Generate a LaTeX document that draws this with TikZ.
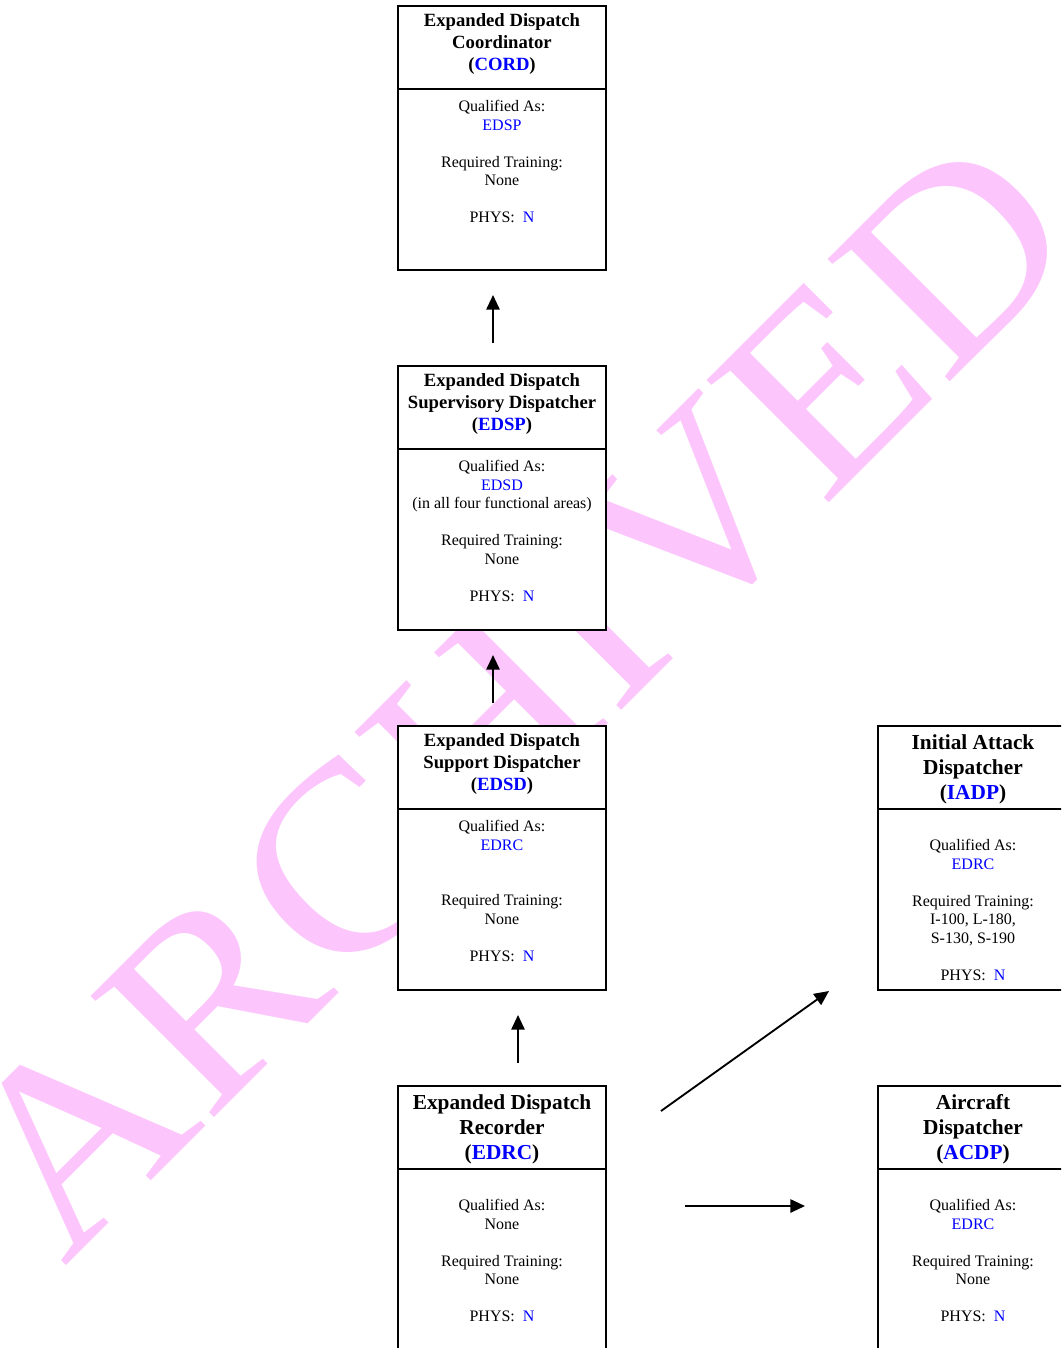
\documentclass[tikz,border=0pt]{standalone}
\usepackage{fontspec}
\setmainfont{Liberation Serif}
\usetikzlibrary{arrows.meta,calc}
\definecolor{stampink}{RGB}{252,198,252}
\newcommand{\acr}[1]{\textcolor{blue}{#1}}
\begin{document}
\begin{tikzpicture}[x=0.75pt, y=-0.75pt, line width=1.4pt,
  >={Triangle[length=11pt,width=10pt]},
  block/.style={rectangle, draw, fill=white, minimum width=156pt, minimum height=198pt, inner sep=0pt},
  wide/.style={block, minimum width=142.5pt},
  head/.style={anchor=north, align=center, inner sep=0pt, font=\bfseries\fontsize{14}{16.5}\selectfont},
  bighead/.style={head, font=\bfseries\fontsize{16}{18.75}\selectfont},
  body/.style={anchor=north, align=center, inner sep=0pt, font=\fontsize{12}{13.9}\selectfont}]
\useasboundingbox (0,0) rectangle (1061,1348);
\clip (0,0) rectangle (1061,1348);
\node at (64,1268) (stamp) [anchor=base west, rotate=45, xscale=1.06, inner sep=0pt, text=stampink, font=\fontsize{198}{198}\selectfont] {ARCHIVED};
\node at (502,138)  (cord) [block] {};
\node at (502,498)  (edsp) [block] {};
\node at (502,858)  (edsd) [block] {};
\node at (502,1218) (edrc) [block] {};
\node at (973,858)  (iadp) [wide] {};
\node at (973,1218) (acdp) [wide] {};
\foreach \b in {cord,edsp,edsd,edrc,iadp,acdp}
  \draw ($(\b.north west)+(0,84)$) -- ($(\b.north east)+(0,84)$);
\node at (502,13) (cord-t) [head] {Expanded Dispatch\\Coordinator\\(\acr{CORD})};
\node at (502,99.5)  (cord-b) [body] {Qualified As:\\\acr{EDSP}\\[13.9pt]Required Training:\\None\\[13.9pt]PHYS:~~\acr{N}};
\node at (502,373) (edsp-t) [head] {Expanded Dispatch\\Supervisory Dispatcher\\(\acr{EDSP})};
\node at (502,459.5)  (edsp-b) [body] {Qualified As:\\\acr{EDSD}\\(in all four functional areas)\\[13.9pt]Required Training:\\None\\[13.9pt]PHYS:~~\acr{N}};
\node at (502,733) (edsd-t) [head] {Expanded Dispatch\\Support Dispatcher\\(\acr{EDSD})};
\node at (502,819.5)  (edsd-b) [body] {Qualified As:\\\acr{EDRC}\\[27.8pt]Required Training:\\None\\[13.9pt]PHYS:~~\acr{N}};
\node at (502,1094)   (edrc-t) [bighead] {Expanded Dispatch\\Recorder\\(\acr{EDRC})};
\node at (502,1198.5) (edrc-b) [body] {Qualified As:\\None\\[13.9pt]Required Training:\\None\\[13.9pt]PHYS:~~\acr{N}};
\node at (973,734)    (iadp-t) [bighead] {Initial Attack\\Dispatcher\\(\acr{IADP})};
\node at (973,838.5)  (iadp-b) [body] {Qualified As:\\\acr{EDRC}\\[13.9pt]Required Training:\\I-100, L-180,\\S-130, S-190\\[13.9pt]PHYS:~~\acr{N}};
\node at (973,1094)   (acdp-t) [bighead] {Aircraft\\Dispatcher\\(\acr{ACDP})};
\node at (973,1198.5) (acdp-b) [body] {Qualified As:\\\acr{EDRC}\\[13.9pt]Required Training:\\None\\[13.9pt]PHYS:~~\acr{N}};
\coordinate (from-edsp) at (493,343);
\coordinate (to-cord)   at (493,295);
\coordinate (from-edsd) at (493,703);
\coordinate (to-edsp)   at (493,655);
\coordinate (from-edrc) at (518,1063);
\coordinate (to-edsd)   at (518,1015);
\coordinate (edrc-ne)   at (661,1111);
\coordinate (to-iadp)   at (829,991);
\coordinate (edrc-e)    at (685,1206);
\coordinate (to-acdp)   at (805,1206);
\draw [->] (from-edsp) -- (to-cord);
\draw [->] (from-edsd) -- (to-edsp);
\draw [->] (from-edrc) -- (to-edsd);
\draw [->] (edrc-ne) -- (to-iadp);
\draw [->] (edrc-e) -- (to-acdp);
\end{tikzpicture}
\end{document}
